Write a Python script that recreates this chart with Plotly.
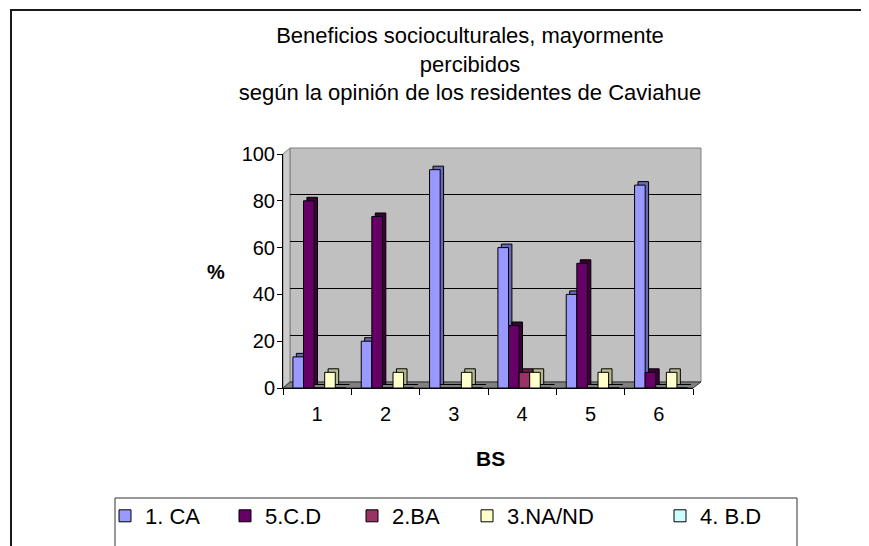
import plotly.graph_objects as go

# data (percent of residents)
categories = ["1", "2", "3", "4", "5", "6"]
series_names = ["1. CA", "5.C.D", "2.BA", "3.NA/ND", "4. B.D"]
ca = [13.3, 20.0, 93.3, 60.0, 40.0, 86.7]
cd = [80.0, 73.3, 0.0, 26.7, 53.3, 6.7]
ba = [0.0, 0.0, 0.0, 6.7, 0.0, 0.0]
na_nd = [6.7, 6.7, 6.7, 6.7, 6.7, 6.7]
bd = [0.0, 0.0, 0.0, 0.0, 0.0, 0.0]
y_ticks = [0, 20, 40, 60, 80, 100]

W, H = 869, 546
OFF = 8  # page body margin, positions below are screen pixels


def px(x):
    return (x - OFF) / W


def py(y):
    return 1 - (y - OFF) / H


front_colors = ["#9999FF", "#660066", "#993366", "#FFFFCC", "#CCFFFF"]
side_colors = ["#6868B8", "#3A003A", "#662244", "#B8B890", "#90B8B8"]
values = [ca, cd, ba, na_nd, bd]

bar_w = 0.155      # width of each column (category units)
first_off = -0.355  # offset of the first series inside a group
depth_x = 0.05     # fake 3D depth, category units
depth_y = 1.5      # fake 3D depth, percent units

fig = go.Figure()

# dummy trace so the back-wall subplot exists
fig.add_trace(go.Scatter(x=[None], y=[None], xaxis="x", yaxis="y",
                         showlegend=False, hoverinfo="skip"))

# depth faces first (drawn behind the front faces)
for i, vals in enumerate(values):
    fig.add_trace(go.Bar(
        x=categories, y=vals, base=depth_y,
        offset=first_off + i * bar_w + depth_x, width=bar_w,
        marker=dict(color=side_colors[i], line=dict(color="black", width=1)),
        xaxis="x2", yaxis="y2", showlegend=False, hoverinfo="skip",
    ))

legend_ids = ["legend", "legend2", "legend3", "legend4", "legend5"]
for i, vals in enumerate(values):
    fig.add_trace(go.Bar(
        x=categories, y=vals, name=series_names[i],
        offset=first_off + i * bar_w, width=bar_w,
        marker=dict(color=front_colors[i], line=dict(color="black", width=1)),
        xaxis="x2", yaxis="y2", legend=legend_ids[i],
        hovertemplate="%{x}: %{y:.1f}%<extra>" + series_names[i] + "</extra>",
    ))


# walls, floor, frames (decoration in paper coordinates)
def poly(points):
    return "M " + " L ".join(f"{px(a):.5f},{py(b):.5f}" for a, b in points) + " Z"


shapes = [
    # outer chart frame
    dict(type="rect", xref="paper", yref="paper", x0=px(11), y0=py(10), x1=px(890), y1=py(570),
         line=dict(color="#1a1a1a", width=2), fillcolor="rgba(0,0,0,0)", layer="below"),
    # back wall
    dict(type="rect", xref="paper", yref="paper", x0=px(290), y0=py(382), x1=px(701), y1=py(148),
         line=dict(color="#808080", width=1), fillcolor="#C0C0C0", layer="below"),
    # left side wall
    dict(type="path", xref="paper", yref="paper",
         path=poly([(283, 388), (283, 154), (290, 148), (290, 382)]),
         line=dict(color="#808080", width=1), fillcolor="#CCCCCC", layer="below"),
    # floor
    dict(type="path", xref="paper", yref="paper",
         path=poly([(283, 388), (290, 382), (701, 382), (693, 388)]),
         line=dict(color="#333333", width=1), fillcolor="#808080", layer="below"),
    # legend box
    dict(type="rect", xref="paper", yref="paper", x0=px(115), y0=py(498), x1=px(797), y1=py(570),
         line=dict(color="#333333", width=1), fillcolor="rgba(0,0,0,0)", layer="below"),
]

font = "Arial, Liberation Sans, sans-serif"
legend_text_x = [145, 265, 392, 507, 700]
legends = {}
for lid, tx in zip(legend_ids, legend_text_x):
    legends[lid] = dict(
        x=px(tx - 40), y=py(516), xanchor="left", yanchor="middle",
        orientation="h", bgcolor="rgba(0,0,0,0)", borderwidth=0,
        font=dict(family=font, size=22, color="black"),
    )

annotations = [
    dict(text="<b>%</b>", x=px(216), y=py(272), xref="paper", yref="paper",
         showarrow=False, xanchor="center", yanchor="middle",
         font=dict(family=font, size=20, color="black")),
    dict(text="<b>BS</b>", x=px(490), y=py(458), xref="paper", yref="paper",
         showarrow=False, xanchor="center", yanchor="middle",
         font=dict(family=font, size=21, color="black")),
]

fig.update_layout(
    width=W, height=H,
    margin=dict(l=0, r=0, t=0, b=0, autoexpand=False),
    paper_bgcolor="white",
    plot_bgcolor="rgba(0,0,0,0)",
    barmode="overlay",
    font=dict(family=font, color="black"),
    title=dict(
        text="Beneficios socioculturales, mayormente<br>percibidos<br>según la opinión de los residentes de Caviahue",
        x=px(470), xanchor="center", y=py(43), yanchor="middle",
        font=dict(family=font, size=22, color="black"),
    ),
    shapes=shapes,
    annotations=annotations,
    # back wall grid
    xaxis=dict(domain=[px(290), px(701)], range=[0, 1], visible=False, fixedrange=True),
    yaxis=dict(domain=[py(382), py(148)], range=[0, 100], tickvals=y_ticks,
               showgrid=True, gridcolor="black", gridwidth=1, zeroline=False,
               showticklabels=False, showline=False, ticks="", fixedrange=True),
    # front axes with the columns
    xaxis2=dict(domain=[px(283), px(693)], anchor="y2", type="category",
                range=[-0.5, 5.5], tickson="boundaries", ticks="outside", ticklen=6,
                tickcolor="black", showline=True, linecolor="black", linewidth=1,
                showgrid=False, tickfont=dict(size=20, family=font),
                ticklabelstandoff=8, fixedrange=True),
    yaxis2=dict(domain=[py(388), py(154)], anchor="x2", range=[0, 100], tickvals=y_ticks,
                ticks="outside", ticklen=5, tickcolor="black", showline=True,
                linecolor="black", linewidth=1, showgrid=False, zeroline=False,
                tickfont=dict(size=20, family=font), ticklabelstandoff=-2,
                fixedrange=True),
    **legends,
)

fig.write_html("out.html")
